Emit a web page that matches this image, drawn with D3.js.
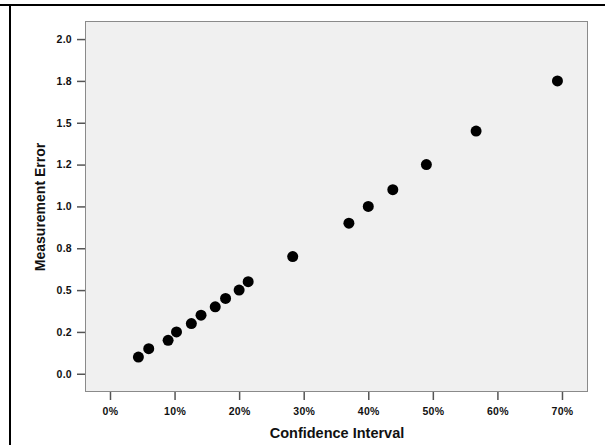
<!DOCTYPE html>
<html>
<head>
<meta charset="utf-8">
<script src="https://cdn.jsdelivr.net/npm/d3@7"></script>
<style>
  body { margin: 0; background: #fff; }
  svg { display: block; font-family: "Liberation Sans", Arial, sans-serif; }
</style>
</head>
<body>
<div id="chart"></div>
<script>
// data
var ciPercent = [4.4, 6.0, 9.0, 10.3, 12.6, 14.1, 16.3, 17.9, 20.0, 21.4, 28.3, 37.0, 40.0, 43.8, 49.0, 56.7, 69.3];
var measError = [0.10, 0.15, 0.20, 0.25, 0.30, 0.35, 0.40, 0.45, 0.50, 0.55, 0.70, 0.90, 1.00, 1.10, 1.25, 1.45, 1.75];
var yTicks = [0, 0.25, 0.5, 0.75, 1.0, 1.25, 1.5, 1.75, 2.0];
var yTickLabels = ["0.0", "0.2", "0.5", "0.8", "1.0", "1.2", "1.5", "1.8", "2.0"];
var xTicks = [0, 10, 20, 30, 40, 50, 60, 70];

var W = 605, H = 445;
var plot = {left: 85, top: 21, right: 588, bottom: 392};

var svg = d3.select('#chart').append('svg')
  .attr('width', W)
  .attr('height', H);

// outer frame (top + left only)
svg.append('line').attr('x1', 0).attr('x2', W).attr('y1', 5).attr('y2', 5)
  .attr('stroke', '#000').attr('stroke-width', 2);
svg.append('line').attr('x1', 10).attr('x2', 10).attr('y1', 4).attr('y2', H)
  .attr('stroke', '#000').attr('stroke-width', 2);

// scales: 0% -> 110px, 70% -> 562px ; 0 -> 373.7, 2 -> 39
var xx = d3.scaleLinear()
  .domain([-3.87, 74.03])
  .range([plot.left, plot.right]);
var yy = d3.scaleLinear()
  .domain([-0.109, 2.108])
  .range([plot.bottom, plot.top]);

svg.append('rect')
  .attr('x', plot.left + 0.5)
  .attr('y', plot.top + 0.5)
  .attr('width', plot.right - plot.left - 1)
  .attr('height', plot.bottom - plot.top - 1)
  .attr('fill', '#f0f0f0')
  .attr('stroke', '#8a8a8a')
  .attr('stroke-width', 1);

// y axis
var yAxis = svg.append('g')
  .attr('transform', 'translate(' + plot.left + ',0)')
  .call(d3.axisLeft(yy)
    .tickValues(yTicks)
    .tickSize(8)
    .tickPadding(5)
    .tickFormat(function(d, i) { return yTickLabels[i]; }));
yAxis.select('.domain').remove();

// x axis
var xAxis = svg.append('g')
  .attr('transform', 'translate(0,' + plot.bottom + ')')
  .call(d3.axisBottom(xx)
    .tickValues(xTicks)
    .tickSize(8)
    .tickPadding(8)
    .tickFormat(function(d) { return d + '%'; }));
xAxis.select('.domain').remove();

svg.selectAll('.tick line').attr('stroke', '#555').attr('stroke-width', 1.5);
svg.selectAll('.tick text')
  .attr('fill', '#111')
  .style('font-size', '10.5px')
  .style('font-weight', 'bold')
  .style('letter-spacing', '0.3px')
  .style('font-family', '"Liberation Sans", Arial, sans-serif');

// axis titles
svg.append('text')
  .attr('x', 337)
  .attr('y', 438)
  .attr('text-anchor', 'middle')
  .attr('fill', '#111')
  .style('font-size', '14.5px')
  .style('font-weight', 'bold')
  .text('Confidence Interval');

svg.append('text')
  .attr('transform', 'translate(45,207) rotate(-90)')
  .attr('text-anchor', 'middle')
  .attr('fill', '#111')
  .style('font-size', '14px')
  .style('font-weight', 'bold')
  .text('Measurement Error');

// dots
svg.selectAll('circle.dot')
  .data(ciPercent)
  .enter()
  .append('circle')
  .attr('class', 'dot')
  .attr('r', 5.5)
  .attr('cx', function(d) { return xx(d); })
  .attr('cy', function(d, i) { return yy(measError[i]); })
  .attr('fill', '#000');
</script>
</body>
</html>
